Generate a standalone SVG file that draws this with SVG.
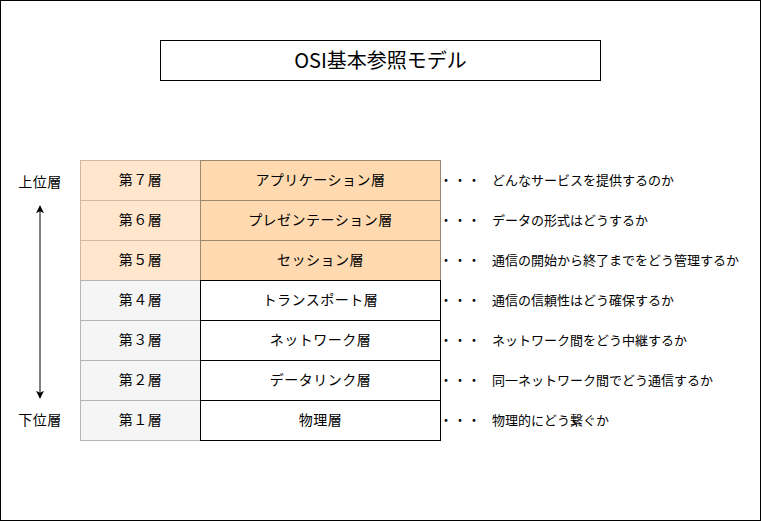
<svg xmlns="http://www.w3.org/2000/svg" width="761" height="521" viewBox="0 0 761 521">
<style>
text{font-family:"Noto Sans CJK JP","Noto Sans",sans-serif;fill:#000;dominant-baseline:central}
.c{text-anchor:middle;font-size:14px;letter-spacing:0.5px}
.d{font-size:13px}
.dots{font-size:13px;letter-spacing:1px}
.lo{fill:#ffe6cc;stroke:#cdb9a6;stroke-width:1}
.ro{fill:#ffdab0;stroke:#9c8670;stroke-width:1}
.lg{fill:#f5f5f5;stroke:#b5b5b5;stroke-width:1}
.rw{fill:#fff;stroke:#000;stroke-width:1}
</style>
<defs>
<marker id="ah" viewBox="0 0 10 10" refX="9" refY="5" markerWidth="8" markerHeight="8" markerUnits="userSpaceOnUse" orient="auto-start-reverse">
<path d="M0,0 L10,5 L0,10 L2.5,5 Z" fill="#000"/>
</marker>
</defs>
<rect x="0.5" y="0.5" width="760" height="520" fill="#fff" stroke="#000"/>
<g id="title">
<rect x="160.5" y="40.5" width="440" height="40" fill="#fff" stroke="#000"/>
<text x="380.5" y="59.5" style="font-size:20px;text-anchor:middle">OSI基本参照モデル</text>
</g>
<g id="label-upper"><text class="c" x="40" y="181">上位層</text></g>
<g id="label-lower"><text class="c" x="40" y="419">下位層</text></g>
<g id="connectors">
<line x1="40" y1="206" x2="40" y2="398" stroke="#000" stroke-width="1" marker-start="url(#ah)" marker-end="url(#ah)"/>
</g>
<g id="layer7">
<rect class="lo" x="80.5" y="160.5" width="120" height="40"/>
<rect class="ro" x="200.5" y="160.5" width="240" height="40"/>
<text class="c" x="140.5" y="179">第７層</text>
<text class="c" x="320.5" y="179">アプリケーション層</text>
<text class="dots" x="439.5" y="179">・・・</text>
<text class="d" x="492" y="179">どんなサービスを提供するのか</text>
</g>
<g id="layer6">
<rect class="lo" x="80.5" y="200.5" width="120" height="40"/>
<rect class="ro" x="200.5" y="200.5" width="240" height="40"/>
<text class="c" x="140.5" y="219">第６層</text>
<text class="c" x="320.5" y="219">プレゼンテーション層</text>
<text class="dots" x="439.5" y="219">・・・</text>
<text class="d" x="492" y="219">データの形式はどうするか</text>
</g>
<g id="layer5">
<rect class="lo" x="80.5" y="240.5" width="120" height="40"/>
<rect class="ro" x="200.5" y="240.5" width="240" height="40"/>
<text class="c" x="140.5" y="259">第５層</text>
<text class="c" x="320.5" y="259">セッション層</text>
<text class="dots" x="439.5" y="259">・・・</text>
<text class="d" x="492" y="259">通信の開始から終了までをどう管理するか</text>
</g>
<g id="layer4">
<rect class="lg" x="80.5" y="280.5" width="120" height="40"/>
<rect class="rw" x="200.5" y="280.5" width="240" height="40"/>
<text class="c" x="140.5" y="299">第４層</text>
<text class="c" x="320.5" y="299">トランスポート層</text>
<text class="dots" x="439.5" y="299">・・・</text>
<text class="d" x="492" y="299">通信の信頼性はどう確保するか</text>
</g>
<g id="layer3">
<rect class="lg" x="80.5" y="320.5" width="120" height="40"/>
<rect class="rw" x="200.5" y="320.5" width="240" height="40"/>
<text class="c" x="140.5" y="339">第３層</text>
<text class="c" x="320.5" y="339">ネットワーク層</text>
<text class="dots" x="439.5" y="339">・・・</text>
<text class="d" x="492" y="339">ネットワーク間をどう中継するか</text>
</g>
<g id="layer2">
<rect class="lg" x="80.5" y="360.5" width="120" height="40"/>
<rect class="rw" x="200.5" y="360.5" width="240" height="40"/>
<text class="c" x="140.5" y="379">第２層</text>
<text class="c" x="320.5" y="379">データリンク層</text>
<text class="dots" x="439.5" y="379">・・・</text>
<text class="d" x="492" y="379">同一ネットワーク間でどう通信するか</text>
</g>
<g id="layer1">
<rect class="lg" x="80.5" y="400.5" width="120" height="40"/>
<rect class="rw" x="200.5" y="400.5" width="240" height="40"/>
<text class="c" x="140.5" y="419">第１層</text>
<text class="c" x="320.5" y="419">物理層</text>
<text class="dots" x="439.5" y="419">・・・</text>
<text class="d" x="492" y="419">物理的にどう繋ぐか</text>
</g>
</svg>
